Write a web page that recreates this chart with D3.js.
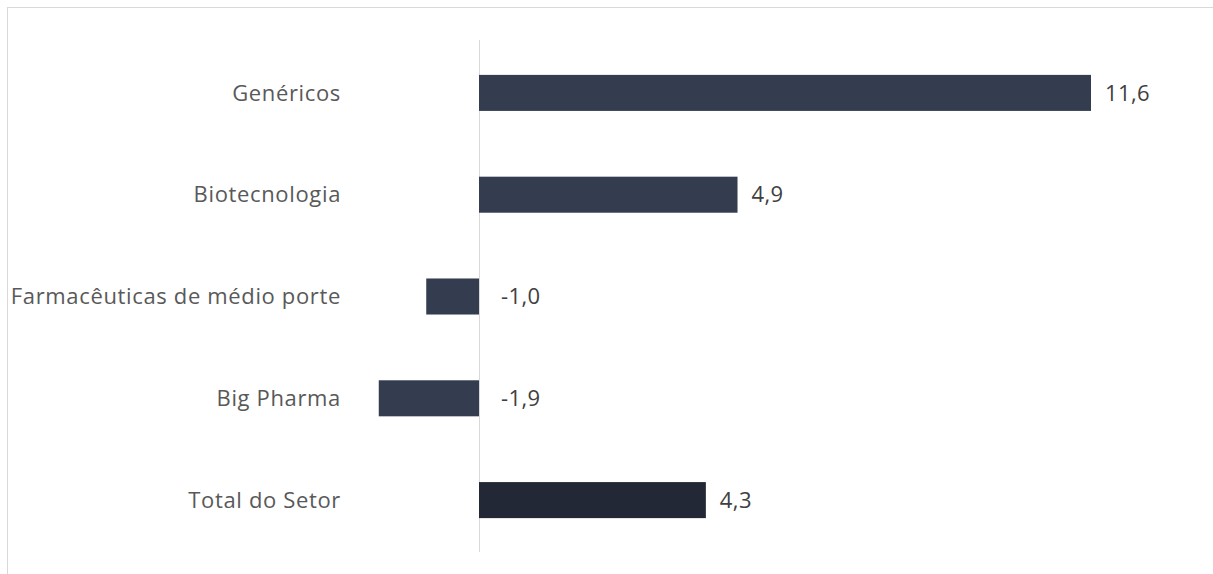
<!DOCTYPE html>
<html>
<head>
<meta charset="utf-8">
<script src="https://cdn.jsdelivr.net/npm/d3@7"></script>
<style>
  body { margin: 0; background: #fff; }
  text { font-family: "Open Sans", sans-serif; }
</style>
</head>
<body>
<script>
const CATEGORIES = [
  "Genéricos",
  "Biotecnologia",
  "Farmacêuticas de médio porte",
  "Big Pharma",
  "Total do Setor"
]

const VALUES = [11.6, 4.9, -1.0, -1.9, 4.3]

const COLORS = ["#343d4f", "#343d4f", "#343d4f", "#343d4f", "#222836"]

const m = {
    width: 1213,
    height: 574
}

const svg = d3.select("body").append("svg")
    .attr("width", m.width)
    .attr("height", m.height)

// light frame round the chart area
svg.append("rect")
    .attr("x", 7.5)
    .attr("y", 7.5)
    .attr("width", 1220)
    .attr("height", 600)
    .attr("fill", "none")
    .attr("stroke", "#d9d9d9")

const x = d3.scaleLinear()
    .domain([0, 11.6])
    .range([479, 1091])

const y = d3.scaleBand()
    .domain(CATEGORIES)
    .range([42, 551])
    .paddingInner(0.646)
    .paddingOuter(0.323)

const data = CATEGORIES.map((c, i) => ({ cat: c, value: VALUES[i], color: COLORS[i] }))

// zero line
svg.append("line")
    .attr("x1", x(0) + 0.5)
    .attr("x2", x(0) + 0.5)
    .attr("y1", 40)
    .attr("y2", 552)
    .attr("stroke", "#d9d9d9")

svg.selectAll(".bar")
    .data(data)
    .enter()
    .append("rect")
        .attr("class", "bar")
        .attr("x", d => Math.min(x(0), x(d.value)))
        .attr("y", d => y(d.cat))
        .attr("width", d => Math.abs(x(d.value) - x(0)))
        .attr("height", y.bandwidth())
        .attr("fill", d => d.color)

// category labels
svg.selectAll(".cat")
    .data(data)
    .enter()
    .append("text")
        .attr("class", "cat")
        .attr("x", 341)
        .attr("y", d => y(d.cat) + y.bandwidth() / 2)
        .attr("dy", "0.35em")
        .attr("text-anchor", "end")
        .attr("font-size", 22)
        .attr("letter-spacing", 0.65)
        .attr("fill", "#595959")
        .text(d => d.cat)

const fmt = v => v.toFixed(1).replace(".", ",")

// value labels
svg.selectAll(".val")
    .data(data)
    .enter()
    .append("text")
        .attr("class", "val")
        .attr("x", d => d.value >= 0 ? x(d.value) + 14 : x(0) + 22)
        .attr("y", d => y(d.cat) + y.bandwidth() / 2)
        .attr("dy", "0.35em")
        .attr("font-size", 22)
        .attr("letter-spacing", 0.4)
        .attr("fill", "#404040")
        .text(d => fmt(d.value))
</script>
</body>
</html>
